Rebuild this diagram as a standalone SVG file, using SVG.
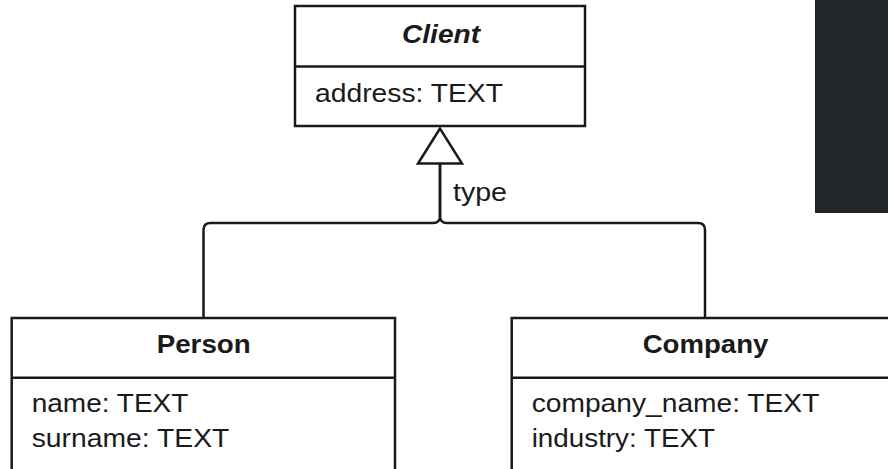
<svg xmlns="http://www.w3.org/2000/svg" width="888" height="469" viewBox="0 0 888 469">
<style>
.box{fill:#fff;stroke:#1a1a1a;stroke-width:2.5}
.ln{fill:none;stroke:#1a1a1a;stroke-width:2.5}
.t{font-family:"Liberation Sans",Arial,sans-serif;font-size:25px;fill:#1a1a1a}
.h{font-weight:bold;text-anchor:middle}
</style>
<rect x="0" y="0" width="888" height="469" fill="#fff"/>
<rect id="dark-panel" x="815" y="0" width="80" height="213" fill="#212629"/>
<g id="connectors">
<path class="ln" d="M203.5,318 V230 Q203.5,223 210.5,223 H433 Q440,223 440,216 V163.5"/>
<path class="ln" d="M705,318 V230 Q705,223 698,223 H447 Q440,223 440,216 V163.5"/>
<polygon class="ln" points="440,128.5 418,163.5 462,163.5" fill="#fff"/>
<text class="t" x="453" y="201" textLength="54" lengthAdjust="spacingAndGlyphs">type</text>
</g>
<g id="client">
<rect class="box" x="295" y="6" width="290" height="120"/>
<line class="ln" x1="295" y1="66.5" x2="585" y2="66.5"/>
<text class="t h" x="441" y="43" font-style="italic" textLength="78" lengthAdjust="spacingAndGlyphs">Client</text>
<text class="t" x="315" y="101.5" textLength="188" lengthAdjust="spacingAndGlyphs">address: TEXT</text>
</g>
<g id="person">
<rect class="box" x="11.7" y="318" width="383.3" height="170"/>
<line class="ln" x1="11.7" y1="377.7" x2="395" y2="377.7"/>
<text class="t h" x="203.7" y="353" textLength="94" lengthAdjust="spacingAndGlyphs">Person</text>
<text class="t" x="31.7" y="411.7" textLength="156.7" lengthAdjust="spacingAndGlyphs">name: TEXT</text>
<text class="t" x="31.7" y="446.7" textLength="197.7" lengthAdjust="spacingAndGlyphs">surname: TEXT</text>
</g>
<g id="company">
<rect class="box" x="511.7" y="318" width="386.6" height="170"/>
<line class="ln" x1="511.7" y1="377.7" x2="898.3" y2="377.7"/>
<text class="t h" x="705.5" y="353" textLength="125.7" lengthAdjust="spacingAndGlyphs">Company</text>
<text class="t" x="531.7" y="411.7" textLength="287.7" lengthAdjust="spacingAndGlyphs">company_name: TEXT</text>
<text class="t" x="531.7" y="446.7" textLength="183.3" lengthAdjust="spacingAndGlyphs">industry: TEXT</text>
</g>
</svg>
